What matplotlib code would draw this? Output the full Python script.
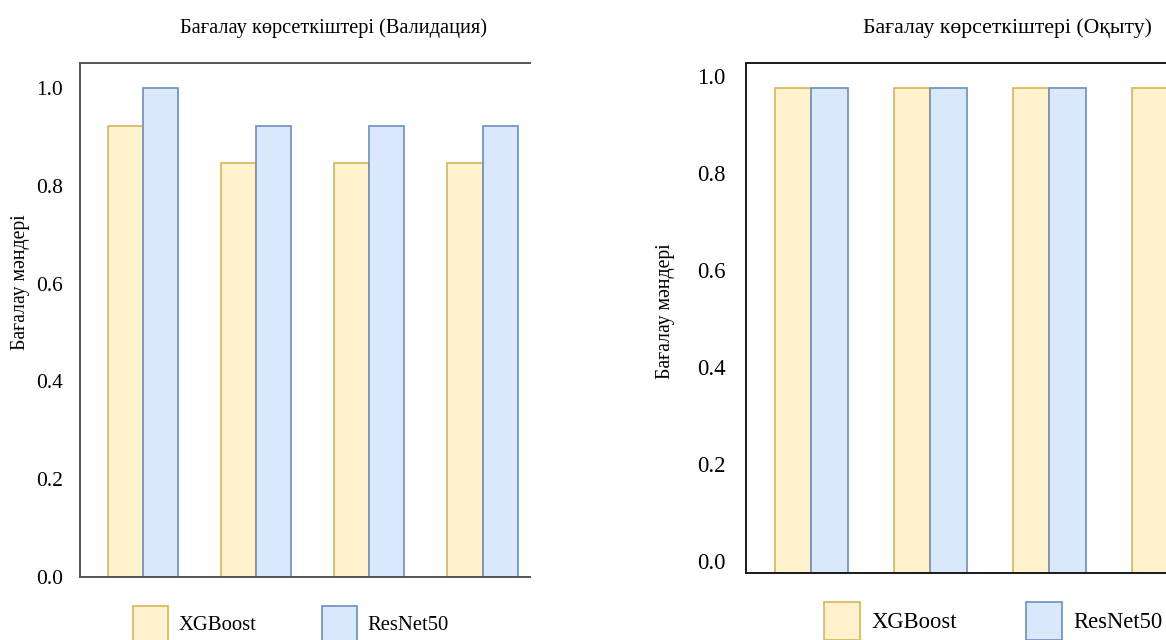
import matplotlib
matplotlib.use('Agg')
import matplotlib.pyplot as plt
import numpy as np

plt.rcParams['font.family'] = ['Liberation Serif', 'DejaVu Serif']

# 4 metric groups per panel (group names are not shown in the picture)
n_groups = 4
models = ['XGBoost', 'ResNet50']
val_xgb = [0.923, 0.846, 0.846, 0.846]
val_resnet = [1.0, 0.923, 0.923, 0.923]
train_xgb = [0.975, 0.975, 0.975, 0.975]
train_resnet = [0.975, 0.975, 0.975, 0.975]
yticks = [0.0, 0.2, 0.4, 0.6, 0.8, 1.0]
ylabel = 'Бағалау мәндері'
titles = ['Бағалау көрсеткіштері (Валидация)', 'Бағалау көрсеткіштері (Оқыту)']

fill = ['#fff2cc', '#dae8fc']
edge = ['#d6b656', '#6c8ebf']

W, H = 1166, 640
fig = plt.figure(figsize=(W / 100, H / 100), dpi=100)


def px_axes(left, top, right, bottom):
    return fig.add_axes([left / W, 1 - bottom / H, (right - left) / W, (bottom - top) / H])


def draw_panel(ax, xgb, resnet, ylim, xlim, spine_col, fs, pad, lab_xy, leg_xy, leg_fs, hl, hh, cs):
    x = np.arange(n_groups)
    w = 0.31
    floor = ylim[0]
    for i, vals in enumerate([xgb, resnet]):
        vals = np.asarray(vals)
        ax.bar(x + (i - 0.5) * w, vals - floor, w, bottom=floor, color=fill[i],
               edgecolor=edge[i], linewidth=1.2, label=models[i])
    ax.set_ylim(*ylim)
    ax.set_xlim(*xlim)
    ax.set_yticks(yticks)
    ax.set_yticklabels(['%.1f' % t for t in yticks], fontsize=fs)
    ax.set_xticks([])
    ax.tick_params(axis='y', length=0, pad=pad)
    ax.spines['right'].set_visible(False)
    for s in ['left', 'top', 'bottom']:
        ax.spines[s].set_color(spine_col)
        ax.spines[s].set_linewidth(1.4)
    ax.set_ylabel(ylabel, fontsize=14.2)
    ax.yaxis.set_label_coords(*lab_xy, transform=fig.transFigure)
    ax.legend(loc='upper left', bbox_to_anchor=leg_xy, bbox_transform=fig.transFigure,
              ncol=2, frameon=False, fontsize=leg_fs, handlelength=hl, handleheight=hh,
              columnspacing=cs, handletextpad=0.5, borderpad=0, borderaxespad=0)


ax1 = px_axes(80, 63, 530, 577)
draw_panel(ax1, val_xgb, val_resnet, (0, 1.051), (-0.56, 3.42), '#555555', 15.5, 12.2,
           (30 / W, 1 - 282 / H), (133 / W, 1 - 606 / H), 14.9, 1.69, 2.3, 3.2)

ax2 = px_axes(746, 63, 1222, 573)
draw_panel(ax2, train_xgb, train_resnet, (-0.0237, 1.026), (-0.55, 3.45), '#1a1a1a', 16.4, 14.9,
           (675 / W, 1 - 311 / H), (824 / W, 1 - 602 / H), 16.3, 1.6, 2.19, 3.05)

fig.text(333 / W, 1 - 28 / H, titles[0], ha='center', va='center', fontsize=14.7)
fig.text(1007 / W, 1 - 28 / H, titles[1], ha='center', va='center', fontsize=15.7)

fig.savefig('out.png', dpi=100)
